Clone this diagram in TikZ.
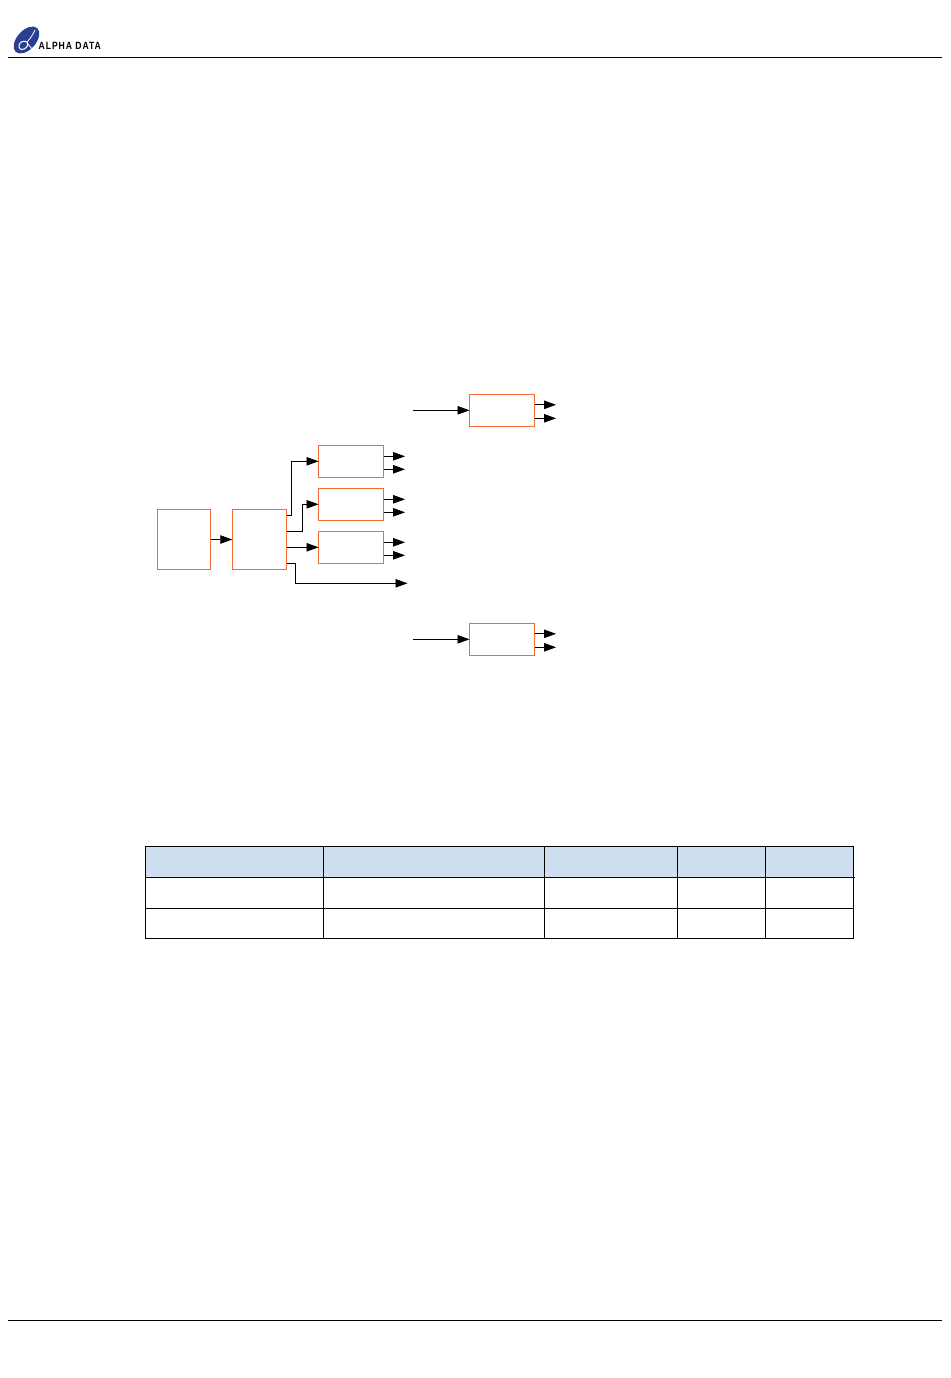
\documentclass[tikz,border=0pt]{standalone}
\usepackage{fontspec}
\setmainfont{Liberation Sans}
\newfontfamily\logofont[LetterSpace=11]{Liberation Sans}
\usetikzlibrary{arrows.meta}
\definecolor{boxedge}{HTML}{F26B38}
\definecolor{headfill}{HTML}{D0DFF0}
\definecolor{logoblue}{HTML}{2B3F8F}
\tikzset{
  x=1pt,y=-1pt,
  block/.style={draw=boxedge,line width=0.8pt,fill=white,inner sep=0pt,outer sep=0pt,minimum width=65pt,minimum height=32pt},
  conn/.style={black,line width=0.8pt,-{Triangle[length=12pt,width=8.5pt]}},
  rule/.style={black,line width=0.8pt},
  grid/.style={black,line width=0.8pt},
}
\begin{document}
\begin{tikzpicture}[x=1pt,y=-1pt]
\useasboundingbox (0,0) rectangle (950,1378);
\fill[white] (0,0) rectangle (950,1378);
% header and footer rules
\coordinate (hl) at (8,57.5); \coordinate (hr) at (942,57.5);
\coordinate (fl) at (8,1320.5); \coordinate (fr) at (942,1320.5);
\draw[rule] (hl) -- (hr);
\draw[rule] (fl) -- (fr);
% logo
\fill[logoblue,rotate around={48:(26.5,40)}] (26.5,40) ellipse [x radius=16pt,y radius=9.5pt];
\draw[white,line width=1pt] (19,47) .. controls (18,42) and (24,40) .. (27,42) .. controls (29,44) and (27,48) .. (24,49) .. controls (21,50) and (19,49) .. (19,47);
\draw[white,line width=0.8pt] (27,42) .. controls (31,38) and (33,34) .. (35,30);
\draw[white,line width=0.8pt] (27,43) -- (33,50);
\node[inner sep=0pt,anchor=west,xscale=0.82,font=\logofont\bfseries\fontsize{10.5}{11}\selectfont] (logotext) at (38.5,46) {ALPHA DATA};
% blocks
\node[block,minimum width=53pt,minimum height=60pt] (a) at (184,539.5) {};
\node[block,minimum width=54.5pt,minimum height=60pt] (b) at (259.5,539.5) {};
\node[block] (c1) at (351,461.3) {};
\node[block] (c2) at (351,504.3) {};
\node[block] (c3) at (351,547.3) {};
\node[block] (d) at (502,410.3) {};
\node[block] (e) at (502,639.3) {};
% free ends
\coordinate (din) at (413,410.3);
\coordinate (ein) at (413,639.3);
\coordinate (bout) at (407.5,583.3);
\foreach \n/\s in {c1/5,c2/5,c3/5,d/5.5,e/5.5}{
  \coordinate (\n up) at ([xshift=21.5pt,yshift=\s pt]\n.east);
  \coordinate (\n dn) at ([xshift=21.5pt,yshift=-8pt]\n.east);
  \draw[conn] ([yshift=\s pt]\n.east) -- (\n up);
  \draw[conn] ([yshift=-8pt]\n.east) -- (\n dn);
}
% connectors
\draw[conn] (a.east |- b.east) -- (b.west);
\draw[conn] ([yshift=24pt]b.east) -- ++(4.6,0) |- (c1.west);
\draw[conn] ([yshift=8pt]b.east) -- ++(15.6,0) |- (c2.west);
\draw[conn] (b.east |- c3.west) -- (c3.west);
\draw[conn] ([yshift=-24pt]b.east) -- ++(8.6,0) |- (bout);
\draw[conn] (din) -- (d.west);
\draw[conn] (ein) -- (e.west);
% table
\fill[headfill] (145.5,846.5) rectangle (853.5,877.5);
\draw[grid] (145.5,846.5) -- (853.5,846.5);
\draw[grid] (145.5,877.5) -- (855,877.5);
\draw[grid] (145.5,908.2) -- (853.5,908.2);
\draw[grid] (145.5,938.5) -- (853.5,938.5);
\foreach \x in {145.5,323.3,544.5,677.5,765.5,853.5}{
  \draw[grid] (\x,846.1) -- (\x,938.9);
}
\end{tikzpicture}
\end{document}
